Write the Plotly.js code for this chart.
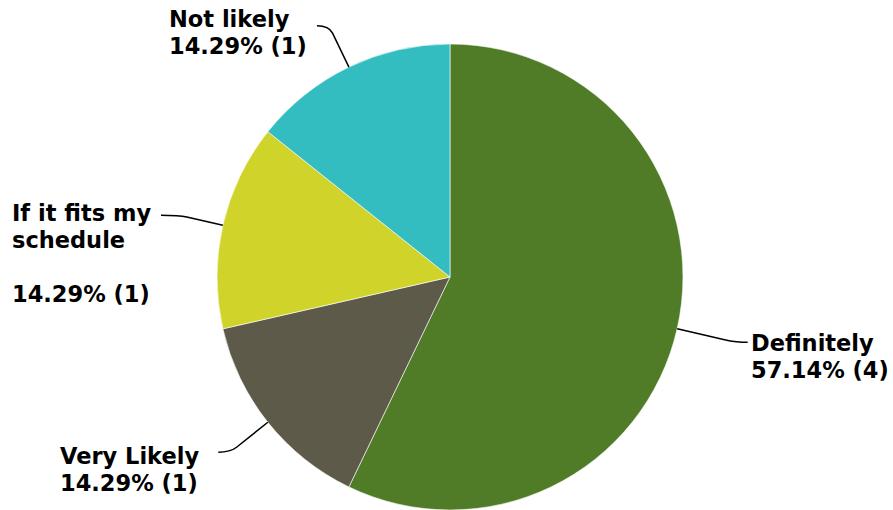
<!DOCTYPE html>
<html>
<head>
<meta charset="utf-8">
<script src="https://cdn.plot.ly/plotly-3.0.1.min.js"></script>
<style>html,body{margin:0;padding:0;background:#fff;}#chart{width:893px;height:510px;}</style>
</head>
<body>
<div id="chart"></div>
<script>
var categories = ['Definitely', 'Very Likely', 'If it fits my schedule', 'Not likely'];
var counts = [4, 1, 1, 1];
var labelLines = [['Definitely'], ['Very Likely'], ['If it fits my', 'schedule', ''], ['Not likely']];
var colors = ['#507C28', '#5D5A4A', '#D0D42A', '#34BDC0'];

var W = 893, H = 510;
var cx = 450, cy = 277, R = 233;
var FS = 22.5, LINE = 27;
// label placement (left edge, first baseline) and leader geometry
var labelPos = [
  {x: 750, b: 350, lead: 60, hook: 12},
  {x: 59, b: 463, lead: 48, hook: 12},
  {x: 11, b: 220, lead: 45, hook: 18},
  {x: 168, b: 26, lead: 46, hook: 12}
];

var total = counts.reduce(function(a, b){ return a + b; }, 0);
function px(x){ return x / W; }
function py(y){ return 1 - y / H; }

var shapes = [], annotations = [];
var acc = 0;
for (var i = 0; i < counts.length; i++) {
  var frac = counts[i] / total;
  var mid = (acc + frac / 2) * 2 * Math.PI;
  acc += frac;
  var dx = Math.sin(mid), dy = -Math.cos(mid);
  var sx = cx + R * dx, sy = cy + R * dy;
  var lp = labelPos[i];
  var ex0 = sx + lp.lead * dx, ey0 = sy + lp.lead * dy;
  var hx = dx >= 0 ? 1 : -1;
  var bx = sx + (lp.lead - 8) * dx, by = sy + (lp.lead - 8) * dy;
  var ex = ex0 + hx * lp.hook, ey = ey0;
  var path = 'M ' + px(sx) + ',' + py(sy) + ' L ' + px(bx) + ',' + py(by) +
             ' Q ' + px(ex0) + ',' + py(ey0) + ' ' + px(ex) + ',' + py(ey);
  shapes.push({type: 'path', xref: 'paper', yref: 'paper', path: path,
               line: {color: '#000', width: 1.5}});
  var pct = (frac * 100).toFixed(2) + '% (' + counts[i] + ')';
  var lines = labelLines[i].concat([pct]);
  for (var k = 0; k < lines.length; k++) {
    if (!lines[k]) continue;
    var base = lp.b + k * LINE;
    annotations.push({
      xref: 'paper', yref: 'paper', x: px(lp.x), y: py(base - 7),
      xanchor: 'left', yanchor: 'middle', align: 'left', showarrow: false,
      borderpad: 0,
      text: '<b>' + lines[k] + '</b>',
      font: {family: 'DejaVu Sans', size: FS, color: '#000'}
    });
  }
}

var data = [{
  type: 'pie',
  labels: categories,
  values: counts,
  sort: false,
  direction: 'clockwise',
  rotation: 0,
  textinfo: 'none',
  hoverinfo: 'label+percent',
  marker: {colors: colors, line: {color: 'rgba(255,255,255,0.6)', width: 1}},
  domain: {x: [(cx - R) / W, (cx + R) / W], y: [0, 1 - (cy - R) / H]}
}];

var layout = {
  width: W, height: H,
  margin: {l: 0, r: 0, t: 0, b: 0},
  showlegend: false,
  paper_bgcolor: '#fff',
  shapes: shapes,
  annotations: annotations
};

Plotly.newPlot('chart', data, layout, {displayModeBar: false, staticPlot: true});
</script>
</body>
</html>
